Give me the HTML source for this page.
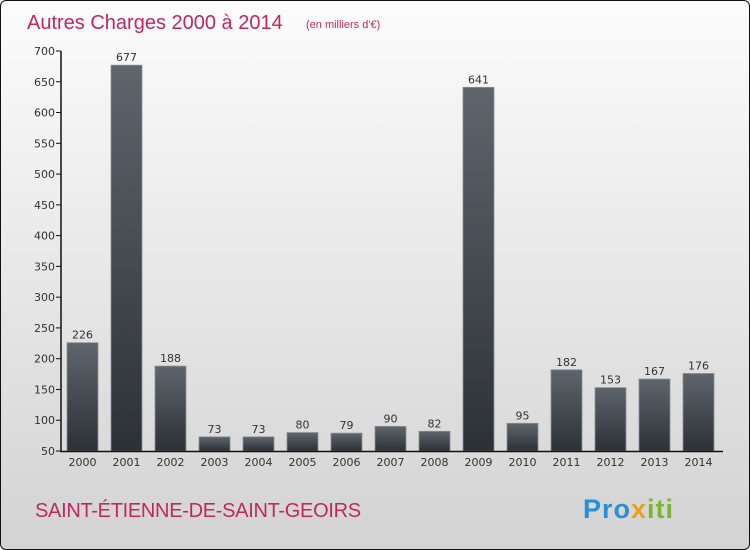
<!DOCTYPE html>
<html><head><meta charset="utf-8"><style>
body{margin:0}
#wrap{position:relative;width:748px;height:548px;border:1px solid #111;border-radius:6px;background:linear-gradient(#fcfcfc,#d3d3d3);overflow:hidden;font-family:"DejaVu Sans","Liberation Sans",sans-serif}
</style></head><body>
<div id="wrap">
<svg width="748" height="548" id="chart">
<defs><linearGradient id="bg" x1="0" y1="0" x2="0" y2="1"><stop offset="0" stop-color="#5e656c"/><stop offset="1" stop-color="#2c3137"/></linearGradient></defs>
<text x="26" y="28" font-size="20" fill="#c0285e" font-family="Liberation Sans, sans-serif">Autres Charges 2000 à 2014</text>
<text x="305" y="27" font-size="11" fill="#c0285e" font-family="Liberation Sans, sans-serif">(en milliers d'€)</text>
<g id="plot"></g>
<text x="34" y="516" font-size="20" fill="#c0285e" font-family="Liberation Sans, sans-serif" letter-spacing="-0.3">SAINT-ÉTIENNE-DE-SAINT-GEOIRS</text>
<text x="582" y="517" font-size="27" font-weight="bold" font-family="Liberation Sans, sans-serif" letter-spacing="1"><tspan fill="#2b8fd6">Pro</tspan><tspan fill="#e8a21a">x</tspan><tspan fill="#7cb631">iti</tspan></text>
</svg>
</div>
<script>
const categories=["2000","2001","2002","2003","2004","2005","2006","2007","2008","2009","2010","2011","2012","2013","2014"];
const values=[226,677,188,73,73,80,79,90,82,641,95,182,153,167,176];
const ticks=[50,100,150,200,250,300,350,400,450,500,550,600,650,700];
const NS="http://www.w3.org/2000/svg";
const g=document.getElementById('plot');
const y=v=>450-(v-50)*(400/650);
const x=i=>81+i*44;
function mk(t,a,txt){const e=document.createElementNS(NS,t);for(const k in a)e.setAttribute(k,a[k]);if(txt!==undefined)e.textContent=txt;g.appendChild(e);return e;}
ticks.forEach(t=>{
 const l=mk('line',{x1:55,x2:60,y1:y(t),y2:y(t),stroke:'#111'});
 
 
 const tx=mk('text',{x:54,y:y(t)+4,'text-anchor':'end','font-size':11,fill:'#333'},t);
 
 
});
values.forEach((v,i)=>{
 const r=mk('rect',{x:x(i)-15,y:y(v),width:31,height:450-y(v),fill:'url(#bg)',stroke:'#8a9096','stroke-width':0.8});
 
 
 const vt=mk('text',{x:x(i)+0.5,y:y(v)-4,'text-anchor':'middle','font-size':11,fill:'#333'},v);
 
 
 const ct=mk('text',{x:x(i)+0.5,y:465,'text-anchor':'middle','font-size':11,fill:'#333'},categories[i]);
 
 
});
const ya=mk('line',{x1:60,x2:60,y1:50,y2:451,stroke:'#111','stroke-width':1.5});


const xa=mk('line',{x1:59,x2:722,y1:450.5,y2:450.5,stroke:'#111','stroke-width':1.5});


</script>
</body></html>
